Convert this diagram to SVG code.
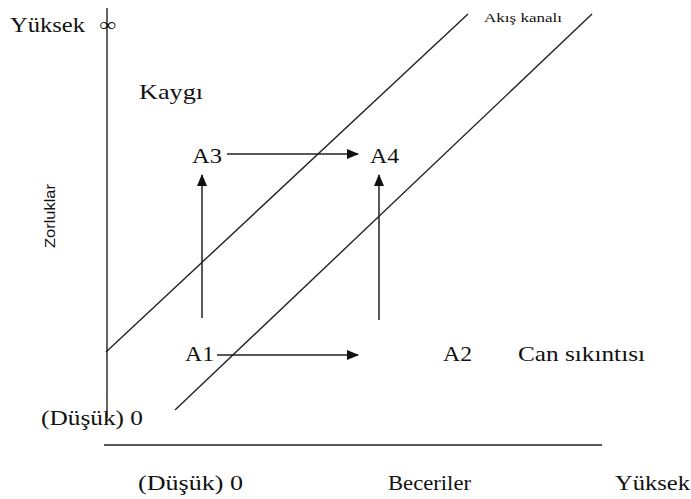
<svg xmlns="http://www.w3.org/2000/svg" width="691" height="499" viewBox="0 0 691 499">
<style>
text{font-family:"Liberation Serif","Times New Roman",serif;fill:#111}
.t{font-size:22px}
.sans{font-family:"Liberation Sans",Arial,sans-serif}
.ax{stroke:#222;stroke-width:1.4;fill:none}
.ar{stroke:#222;stroke-width:1.5;fill:none;marker-end:url(#ah)}
</style>
<defs>
<marker id="ah" viewBox="0 0 12 10" refX="11" refY="5" markerWidth="12" markerHeight="10" markerUnits="userSpaceOnUse" orient="auto">
<path d="M0,0 L12,5 L0,10 Z" fill="#111"/>
</marker>
</defs>
<g id="axes">
<line class="ax" x1="107" y1="8" x2="107" y2="418"/>
<line class="ax" x1="104" y1="445" x2="602" y2="445"/>
<line class="ax" x1="106" y1="352" x2="468" y2="14"/>
<line class="ax" x1="175" y1="410" x2="592" y2="14"/>
</g>
<g id="labels">
<text class="t" x="10" y="32" font-size="24" textLength="75" lengthAdjust="spacingAndGlyphs">Yüksek</text>
<text x="99" y="31" font-size="19" textLength="17" lengthAdjust="spacingAndGlyphs">∞</text>
<text x="484" y="22" font-size="13" textLength="78" lengthAdjust="spacingAndGlyphs">Akış kanalı</text>
<text class="sans" x="0" y="0" font-size="14" textLength="64" lengthAdjust="spacingAndGlyphs" transform="translate(55,248) rotate(-90)">Zorluklar</text>
<text class="t" x="41" y="425" textLength="102" lengthAdjust="spacingAndGlyphs">(Düşük) 0</text>
<text class="t" x="138" y="490" textLength="105" lengthAdjust="spacingAndGlyphs">(Düşük) 0</text>
<text class="t" x="388" y="490" textLength="83" lengthAdjust="spacingAndGlyphs">Beceriler</text>
<text class="t" x="615" y="490" font-size="23" textLength="75" lengthAdjust="spacingAndGlyphs">Yüksek</text>
</g>
<g id="kaygi"><text class="t" x="139" y="99" textLength="64" lengthAdjust="spacingAndGlyphs">Kaygı</text></g>
<g id="can-sikintisi"><text class="t" x="518" y="361" textLength="127" lengthAdjust="spacingAndGlyphs">Can sıkıntısı</text></g>
<g id="A3"><text class="t" x="192" y="163" textLength="30" lengthAdjust="spacingAndGlyphs">A3</text></g>
<g id="A4"><text class="t" x="370" y="163" textLength="29" lengthAdjust="spacingAndGlyphs">A4</text></g>
<g id="A1"><text class="t" x="185" y="361" textLength="29" lengthAdjust="spacingAndGlyphs">A1</text></g>
<g id="A2"><text class="t" x="443" y="361" textLength="29" lengthAdjust="spacingAndGlyphs">A2</text></g>
<g id="connectors">
<line class="ar" x1="227" y1="154" x2="358" y2="154"/>
<line class="ar" x1="217" y1="355" x2="358" y2="355"/>
<line class="ar" x1="202" y1="318" x2="202" y2="175"/>
<line class="ar" x1="379" y1="320" x2="379" y2="175"/>
</g>
</svg>
